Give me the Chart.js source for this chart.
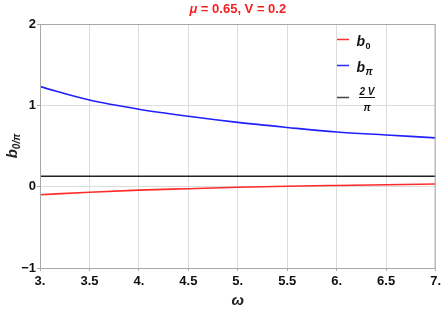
<!DOCTYPE html>
<html>
<head>
<meta charset="utf-8">
<script src="https://cdn.jsdelivr.net/npm/chart.js@4"></script>
<style>
  html, body { margin: 0; padding: 0; background: #fff; }
  canvas { display: block; }
</style>
</head>
<body>
<canvas id="chart" width="444" height="311"></canvas>
<script>
// omega values along the x axis
var omega = [3, 3.5, 4, 4.5, 5, 5.5, 6, 6.5, 7];
// b_0 and b_pi
var b0 = [-0.10, -0.068, -0.042, -0.025, -0.008, 0.005, 0.015, 0.024, 0.032];
var bPi = [1.23, 1.065, 0.952, 0.865, 0.79, 0.728, 0.672, 0.636, 0.60];
// constant 2V/pi with V = 0.2
var V = 0.2;
var twoVoverPi = omega.map(function () { return 2 * V / Math.PI; });
var xTicks = ["3.", "3.5", "4.", "4.5", "5.", "5.5", "6.", "6.5", "7."];
var yTicks = ["\u22121", "0", "1", "2"];

var FONT = "'Liberation Sans', Arial, sans-serif";

function pts(ys) {
  return omega.map(function (x, i) { return { x: x, y: ys[i] }; });
}

// titles, legend and the frame drawn on top of the chart
var decorPlugin = {
  id: "decor",
  afterDraw: function (chart) {
    var ctx = chart.ctx;
    var a = chart.chartArea;
    ctx.save();

    // frame
    ctx.strokeStyle = "#a8a8a8";
    ctx.lineWidth = 1;
    ctx.strokeRect(a.left + 0.5, a.top + 0.5, a.right - a.left - 1, a.bottom - a.top);

    // title
    ctx.fillStyle = "#f52020";
    ctx.textBaseline = "middle";
    var t1 = "\u03bc";
    ctx.font = "bold 13px " + FONT;
    var t2 = " = 0.65, V = 0.2";
    var w2 = ctx.measureText(t2).width;
    ctx.font = "italic bold 13px " + FONT;
    var w1 = ctx.measureText(t1).width;
    var cx = (a.left + a.right) / 2;
    var sx = cx - (w1 + w2) / 2;
    ctx.textAlign = "left";
    ctx.fillText(t1, sx, 9);
    ctx.font = "bold 13px " + FONT;
    ctx.fillText(t2, sx + w1, 9);

    // x axis title
    ctx.fillStyle = "#222";
    ctx.textAlign = "center";
    ctx.font = "italic bold 15px " + FONT;
    ctx.fillText("\u03c9", cx, 301);

    // y axis title, rotated
    ctx.save();
    ctx.translate(13, (a.top + a.bottom) / 2);
    ctx.rotate(-Math.PI / 2);
    ctx.textAlign = "left";
    ctx.font = "italic bold 15px " + FONT;
    var wb = ctx.measureText("b").width;
    ctx.font = "italic bold 10px " + FONT;
    var ws = ctx.measureText("0/\u03c0").width;
    var start = -(wb + ws) / 2;
    ctx.font = "italic bold 15px " + FONT;
    ctx.fillText("b", start, 0);
    ctx.font = "italic bold 10px " + FONT;
    ctx.fillText("0/\u03c0", start + wb, 4);
    ctx.restore();

    // legend
    var lx0 = 337, lx1 = 349, tx = 356.5;
    ctx.lineWidth = 1.5;
    ctx.textAlign = "left";
    ctx.textBaseline = "alphabetic";
    ctx.fillStyle = "#111";

    ctx.strokeStyle = "#ff3030";
    ctx.beginPath(); ctx.moveTo(lx0, 39.5); ctx.lineTo(lx1, 39.5); ctx.stroke();
    ctx.font = "italic bold 14px " + FONT;
    ctx.fillText("b", tx, 46);
    ctx.font = "bold 9px " + FONT;
    ctx.fillText("0", tx + 9, 48.5);

    ctx.strokeStyle = "#2a2aff";
    ctx.beginPath(); ctx.moveTo(lx0, 65.5); ctx.lineTo(lx1, 65.5); ctx.stroke();
    ctx.font = "italic bold 14px " + FONT;
    ctx.fillText("b", tx, 72);
    ctx.font = "italic bold 10px " + FONT;
    ctx.fillText("\u03c0", tx + 9, 74.5);

    ctx.strokeStyle = "#444";
    ctx.beginPath(); ctx.moveTo(lx0, 97.5); ctx.lineTo(lx1, 97.5); ctx.stroke();
    ctx.textAlign = "center";
    ctx.font = "italic bold 10px " + FONT;
    ctx.fillText("2 V", 367, 95);
    ctx.lineWidth = 1;
    ctx.strokeStyle = "#111";
    ctx.beginPath(); ctx.moveTo(359, 97.5); ctx.lineTo(375, 97.5); ctx.stroke();
    ctx.fillText("\u03c0", 367, 111);

    ctx.restore();
  }
};

new Chart(document.getElementById("chart"), {
  type: "line",
  data: {
    datasets: [
      {
        label: "b0",
        data: pts(b0),
        borderColor: "#ff2a2a",
        borderWidth: 1.6,
        pointRadius: 0,
        tension: 0.4,
        cubicInterpolationMode: "monotone"
      },
      {
        label: "bpi",
        data: pts(bPi),
        borderColor: "#2020ff",
        borderWidth: 1.6,
        pointRadius: 0,
        tension: 0.4,
        cubicInterpolationMode: "monotone"
      },
      {
        label: "2V/pi",
        data: pts(twoVoverPi),
        borderColor: "#222",
        borderWidth: 1.6,
        pointRadius: 0
      }
    ]
  },
  options: {
    responsive: false,
    animation: false,
    layout: { padding: { top: 24, right: 7, left: 0, bottom: 0 } },
    plugins: {
      legend: { display: false },
      tooltip: { enabled: false },
      title: { display: false }
    },
    scales: {
      x: {
        type: "linear",
        min: 3,
        max: 7,
        afterBuildTicks: function (scale) {
          scale.ticks = omega.map(function (v) { return { value: v }; });
        },
        afterFit: function (scale) { scale.height = 43; },
        grid: { color: "#dcdcdc", drawTicks: true, tickLength: 3, tickColor: "#aaa" },
        border: { display: false },
        ticks: {
          color: "#111",
          padding: 3,
          maxRotation: 0,
          autoSkip: false,
          font: { family: FONT, size: 13, weight: "bold" },
          callback: function (v) {
            var i = omega.indexOf(v);
            return i >= 0 ? xTicks[i] : "";
          }
        }
      },
      y: {
        min: -1,
        max: 2,
        afterBuildTicks: function (scale) {
          scale.ticks = [-1, 0, 1, 2].map(function (v) { return { value: v }; });
        },
        afterFit: function (scale) { scale.width = 40; },
        grid: { color: "#dcdcdc", drawTicks: true, tickLength: 3, tickColor: "#aaa" },
        border: { display: false },
        ticks: {
          color: "#111",
          padding: 1,
          font: { family: FONT, size: 13, weight: "bold" },
          callback: function (v) {
            return yTicks[[-1, 0, 1, 2].indexOf(v)];
          }
        }
      }
    }
  },
  plugins: [decorPlugin]
});
</script>
</body>
</html>
